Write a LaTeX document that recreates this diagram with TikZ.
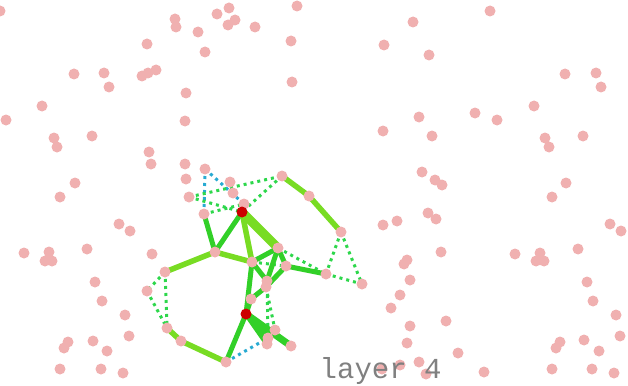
\documentclass[tikz,border=0pt]{standalone}
\usepackage{fontspec}
\newfontfamily\monofont{Liberation Mono}
\usepackage{tikz}
\usetikzlibrary{calc}
\definecolor{dotpink}{RGB}{240,176,176}
\definecolor{limegreen}{RGB}{120,220,35}
\definecolor{leafgreen}{RGB}{50,208,40}
\definecolor{dashgreen}{RGB}{45,215,75}
\definecolor{dashcyan}{RGB}{40,170,210}
\definecolor{hotred}{RGB}{204,0,0}
\definecolor{labelgray}{RGB}{128,128,128}
\pgfdeclarelayer{edges}
\pgfsetlayers{edges,main}

\begin{document}
\begin{tikzpicture}[
    x=1pt, y=-1pt,
    spot/.style={circle, fill=dotpink, inner sep=0pt, minimum size=11pt},
    hub/.style={circle, fill=hotred, inner sep=0pt, minimum size=11pt},
    lightedge/.style={draw=limegreen, line width=5.5pt},
    darkedge/.style={draw=leafgreen, line width=5pt},
    dotedge/.style={draw=dashgreen, line width=3pt, dash pattern=on 3pt off 4pt},
    cyanedge/.style={draw=dashcyan, line width=3pt, dash pattern=on 3pt off 4pt}
]
  \useasboundingbox (0,0) rectangle (628,385);

  % scattered points
  \foreach \x/\y [count=\i] in {0/11, 175/19, 176/27, 217/14, 229/8, 235/20, 228/25, 255/27, 297/6,
      198/32, 147/44, 205/52, 291/41, 292/82, 74/74, 104/73, 109/87, 142/76, 148/73, 156/70,
      186/93, 42/106, 6/120, 185/121, 54/138, 57/147, 92/136, 149/152, 151/164, 185/164,
      186/179, 75/183, 60/197, 230/182, 233/193,
      490/11, 413/22, 384/45, 429/55, 565/74, 596/73, 601/87, 534/106, 475/113, 497/120,
      419/117, 383/131, 432/136, 545/138, 549/147, 583/136, 422/172, 435/180, 442/185,
      566/183, 552/197,
      119/224, 130/231, 24/253, 49/252, 45/261, 52/261, 87/249, 152/254, 95/282, 102/301,
      125/315, 129/336, 68/342, 64/348, 93/341, 107/351, 60/369, 101/369, 123/373,
      383/225, 397/221, 428/213, 436/219, 610/224, 621/231, 441/252, 515/254, 540/253,
      536/261, 544/261, 578/249, 407/260, 404/264, 410/280, 587/282, 400/295, 391/308,
      593/301, 616/315, 446/321, 410/326, 620/336, 407/343, 458/353, 584/340, 560/342,
      556/348, 599/351, 419/362, 400/365, 382/369, 426/374, 484/372, 552/369, 592/369,
      614/373}
    \node[spot] (p\i) at (\x,\y) {};

  % graph
  \node[spot] (v1) at (205,169) {};
  \node[spot] (v4) at (189,197) {};
  \node[spot] (v5) at (204,214) {};
  \node[spot] (v6) at (244,204) {};
  \node[hub] (r1) at (242,212) {};
  \node[spot] (v7) at (282,176) {};
  \node[spot] (v8) at (309,196) {};
  \node[spot] (v9) at (341,232) {};
  \node[spot] (v10) at (215,252) {};
  \node[spot] (v11) at (278,248) {};
  \node[spot] (v12) at (252,262) {};
  \node[spot] (v13) at (286,266) {};
  \node[spot] (v14) at (326,274) {};
  \node[spot] (v15) at (362,284) {};
  \node[spot] (v16) at (165,272) {};
  \node[spot] (v17) at (147,291) {};
  \node[spot] (v18) at (267,281) {};
  \node[spot] (v19) at (266,287) {};
  \node[spot] (v20) at (251,299) {};
  \node[hub] (r2) at (246,314) {};
  \node[spot] (v21) at (167,328) {};
  \node[spot] (v22) at (181,341) {};
  \node[spot] (v23) at (275,330) {};
  \node[spot] (v24) at (268,338) {};
  \node[spot] (v25) at (267,344) {};
  \node[spot] (v26) at (291,346) {};
  \node[spot] (v27) at (226,362) {};

  \begin{pgfonlayer}{edges}
    \draw[cyanedge] (v1.center) -- (v5.center);
    \draw[cyanedge] (v1.center) -- (v6.center);
    \draw[cyanedge] (v27.center) -- (v24.center);
    \foreach \a/\b in {v4/r1, v4/v7, v7/r1, v5/v6, v16/v17, v17/v21, v16/v21,
        v9/v14, v9/v15, v14/v15, v11/v14, v12/v13, v19/v23, v18/v24}
      \draw[dotedge] (\a.center) -- (\b.center);
    \foreach \a/\b in {v5/v10, v10/r1, v12/v11, v11/v13, v13/v14, v11/v18, v12/v18,
        v13/v19, v19/v20, v12/r2, r2/v20, r2/v27, r2/v24, r2/v25}
      \draw[darkedge] (\a.center) -- (\b.center);
    \draw[darkedge, line width=7pt] (r2.center) -- (v26.center);
    \foreach \a/\b in {r1/v12, v10/v12, v10/v16, v7/v8, v8/v9, v21/v22, v22/v27}
      \draw[lightedge] (\a.center) -- (\b.center);
    \draw[lightedge, line width=9pt] (r1.center) -- (v11.center);
  \end{pgfonlayer}

  \node[anchor=base west, text=labelgray, font=\monofont\fontsize{29}{29}\selectfont, inner sep=0pt] (title) at (319.5,378) {layer 4};
\end{tikzpicture}
\end{document}
